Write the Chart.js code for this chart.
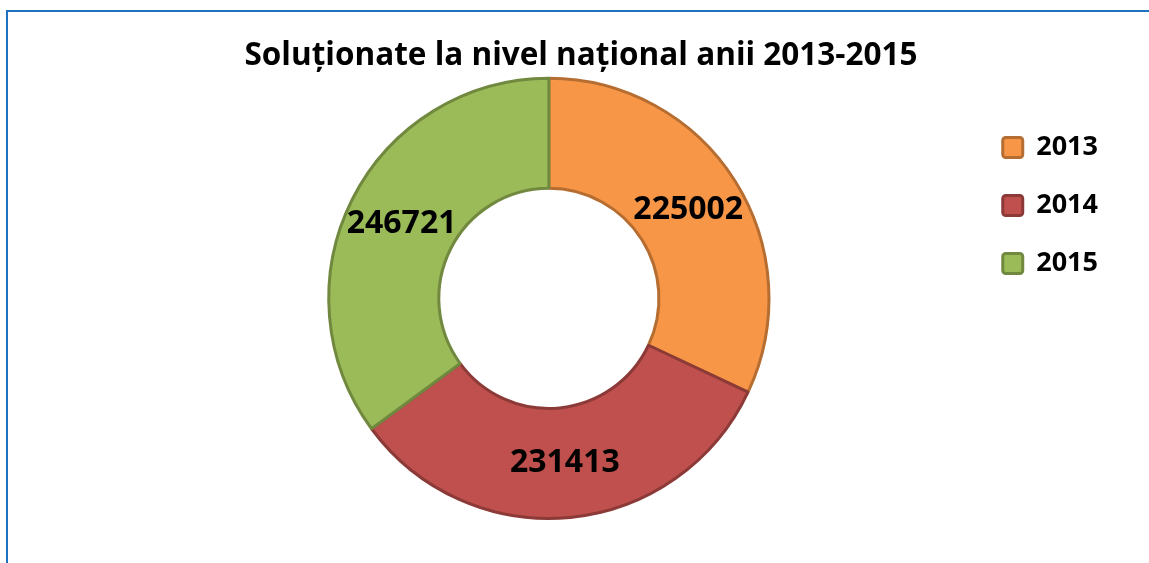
<!DOCTYPE html>
<html lang="ro">
<head>
    <meta charset="UTF-8">
    <title>Soluționate la nivel național</title>
    <script src="https://cdn.jsdelivr.net/npm/chart.js"></script>
    <style>
        html, body {
            margin: 0;
            padding: 0;
            background: #fff;
            overflow: hidden;
        }
        .frame {
            position: absolute;
            left: 6px;
            top: 10px;
            width: 1300px;
            height: 700px;
            border-left: 2px solid #1F72BF;
            border-top: 2px solid #1F72BF;
        }
        .chart-box {
            position: absolute;
            left: 0;
            top: 0;
            width: 1149px;
            height: 563px;
        }
    </style>
</head>
<body>
    <div class="frame"></div>
    <div class="chart-box">
        <canvas id="chart"></canvas>
    </div>

<script>
    const years = ["2013", "2014", "2015"];
    const solved = [225002, 231413, 246721];
    const fillColors = ["#F79646", "#C0504D", "#9BBB59"];
    const edgeColors = ["#B66D31", "#8C3A38", "#71893F"];

    // writes the value in the middle of each ring slice
    const sliceLabels = {
        id: "sliceLabels",
        afterDatasetsDraw(chart) {
            const ctx = chart.ctx;
            const meta = chart.getDatasetMeta(0);
            ctx.save();
            ctx.font = "bold 32px 'Open Sans'";
            ctx.fillStyle = "#000";
            ctx.textAlign = "center";
            ctx.textBaseline = "middle";
            meta.data.forEach((arc, i) => {
                const pos = arc.tooltipPosition();
                ctx.fillText(String(chart.data.datasets[0].data[i]), pos.x, pos.y);
            });
            ctx.restore();
        }
    };

    // the title sits a bit right of the ring in the original
    const titleShift = {
        id: "titleShift",
        afterLayout(chart) {
            const t = chart.titleBlock;
            const shift = 581 - (t.left + t.right) / 2;
            t.left += shift;
            t.right += shift;
        }
    };

    new Chart(document.getElementById("chart"), {
        type: "doughnut",
        data: {
            labels: years,
            datasets: [{
                data: solved,
                backgroundColor: fillColors,
                borderColor: edgeColors,
                borderWidth: 3
            }]
        },
        options: {
            responsive: true,
            maintainAspectRatio: false,
            animation: false,
            events: [],
            cutout: "50%",
            layout: {
                padding: { left: 126, right: 41, top: 0, bottom: 43 }
            },
            plugins: {
                title: {
                    display: true,
                    text: "Soluționate la nivel național anii 2013-2015",
                    color: "#000",
                    font: { family: "'Open Sans'", size: 31.5, weight: "bold" },
                    padding: { top: 37, bottom: 2 }
                },
                legend: {
                    position: "right",
                    align: "start",
                    fullSize: false,
                    title: {
                        display: true,
                        text: " ",
                        font: { size: 1 },
                        padding: { top: 12, bottom: 13 }
                    },
                    labels: {
                        color: "#000",
                        boxWidth: 20,
                        boxHeight: 20,
                        padding: 31,
                        useBorderRadius: true,
                        borderRadius: 3,
                        font: { family: "'Open Sans'", size: 27, weight: "bold" }
                    }
                },
                tooltip: { enabled: false }
            }
        },
        plugins: [sliceLabels, titleShift]
    });
</script>
</body>
</html>
